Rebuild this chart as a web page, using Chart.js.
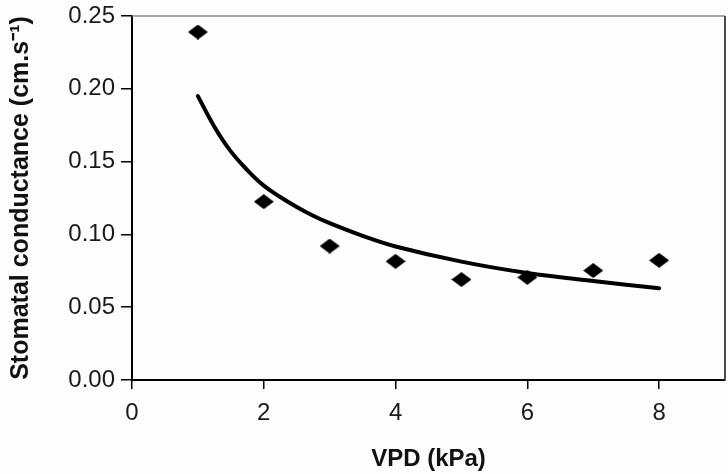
<!DOCTYPE html>
<html>
<head>
<meta charset="utf-8">
<script src="https://cdn.jsdelivr.net/npm/chart.js@4/dist/chart.umd.min.js"></script>
<style>
  html, body { margin: 0; padding: 0; background: #fdfdfd; }
  #wrap { width: 728px; height: 474px; }
</style>
</head>
<body>
<div id="wrap"><canvas id="vpd-chart" width="728" height="474"></canvas></div>
<script>
// measured points (VPD kPa, conductance cm/s)
var vpdValues = [1, 2, 3, 4, 5, 6, 7, 8];
var conductanceValues = [0.239, 0.1225, 0.092, 0.0815, 0.069, 0.0705, 0.0752, 0.0822];

// fitted curve
var curveVpd = [1, 1.25, 1.5, 1.75, 2, 2.25, 2.5, 2.75, 3, 3.5, 4, 5, 6, 7, 8];
var curveConductance = [0.195, 0.174, 0.157, 0.1442, 0.1335, 0.1257, 0.1188, 0.1128, 0.1077, 0.099, 0.0917, 0.0813, 0.0735, 0.068, 0.063];

var xTicks = [0, 2, 4, 6, 8];
var yTicks = [0, 0.05, 0.10, 0.15, 0.20, 0.25];

function toPoints(xs, ys) {
	var pts = [];
	for (let i = 0; i < xs.length; i++) {
		pts.push({ x: xs[i], y: ys[i] });
	}
	return pts;
}

// flat diamond marker
var diamond = document.createElement('canvas');
diamond.width = 20;
diamond.height = 15;
var dctx = diamond.getContext('2d');
dctx.fillStyle = '#000';
dctx.beginPath();
dctx.moveTo(10, 0);
dctx.lineTo(20, 7.5);
dctx.lineTo(10, 15);
dctx.lineTo(0, 7.5);
dctx.closePath();
dctx.fill();

// top and right frame of the plot area
const frame = {
	id: 'frame',
	afterDraw(chart) {
		const { ctx, chartArea } = chart;
		ctx.save();
		ctx.strokeStyle = '#8a8a8a';
		ctx.lineWidth = 1.5;
		ctx.beginPath();
		ctx.moveTo(chartArea.left, chartArea.top);
		ctx.lineTo(chartArea.right, chartArea.top);
		ctx.stroke();
		ctx.strokeStyle = '#4a4a4a';
		ctx.lineWidth = 2;
		ctx.beginPath();
		ctx.moveTo(chartArea.right, chartArea.top);
		ctx.lineTo(chartArea.right, chartArea.bottom);
		ctx.stroke();
		ctx.restore();
	}
};

const tickFont = { family: 'Liberation Sans, Arial, sans-serif', size: 24 };
const titleFont = { family: 'Liberation Sans, Arial, sans-serif', size: 24, weight: 'bold' };

new Chart(document.getElementById('vpd-chart'), {
	type: 'scatter',
	data: {
		datasets: [{
			label: 'Measured',
			data: toPoints(vpdValues, conductanceValues),
			pointStyle: diamond,
			pointRadius: 10,
			pointHoverRadius: 10,
			showLine: false,
			order: 1
		}, {
			label: 'Fit',
			data: toPoints(curveVpd, curveConductance),
			showLine: true,
			borderColor: '#000',
			borderWidth: 4,
			borderCapStyle: 'round',
			pointRadius: 0,
			tension: 0.4,
			order: 2
		}]
	},
	options: {
		responsive: false,
		animation: false,
		layout: { autoPadding: false, padding: { top: 16, right: 3, left: 0, bottom: 0 } },
		plugins: {
			legend: { display: false },
			tooltip: { enabled: false }
		},
		scales: {
			x: {
				type: 'linear',
				min: 0,
				max: 9,
				afterBuildTicks: function (axis) {
					axis.ticks = xTicks.map(v => ({ value: v }));
				},
				afterFit: function (axis) {
					axis.height = 94;
					axis.paddingLeft = 0;
					axis.paddingRight = 0;
				},
				ticks: { font: tickFont, color: '#1a1a1a', padding: 10 },
				grid: { drawOnChartArea: false, drawTicks: true, tickLength: 9, color: '#000', lineWidth: 1.5 },
				border: { color: '#000', width: 2 },
				title: { display: true, text: 'VPD (kPa)', font: titleFont, color: '#111', padding: { top: 12, bottom: 0 } }
			},
			y: {
				min: 0,
				max: 0.25,
				afterBuildTicks: function (axis) {
					axis.ticks = yTicks.map(v => ({ value: v }));
				},
				afterFit: function (axis) {
					axis.width = 132;
					axis.paddingTop = 0;
					axis.paddingBottom = 0;
				},
				ticks: {
					font: tickFont,
					color: '#1a1a1a',
					padding: 6,
					callback: v => v.toFixed(2)
				},
				grid: { drawOnChartArea: false, drawTicks: true, tickLength: 11, color: '#000', lineWidth: 1.5 },
				border: { color: '#000', width: 2 },
				title: { display: true, text: 'Stomatal conductance (cm.s\u207B\u00B9)', font: { family: titleFont.family, size: 25, weight: 'bold' }, color: '#111', padding: { top: 6, bottom: 0 } }
			}
		}
	},
	plugins: [frame]
});
</script>
</body>
</html>
